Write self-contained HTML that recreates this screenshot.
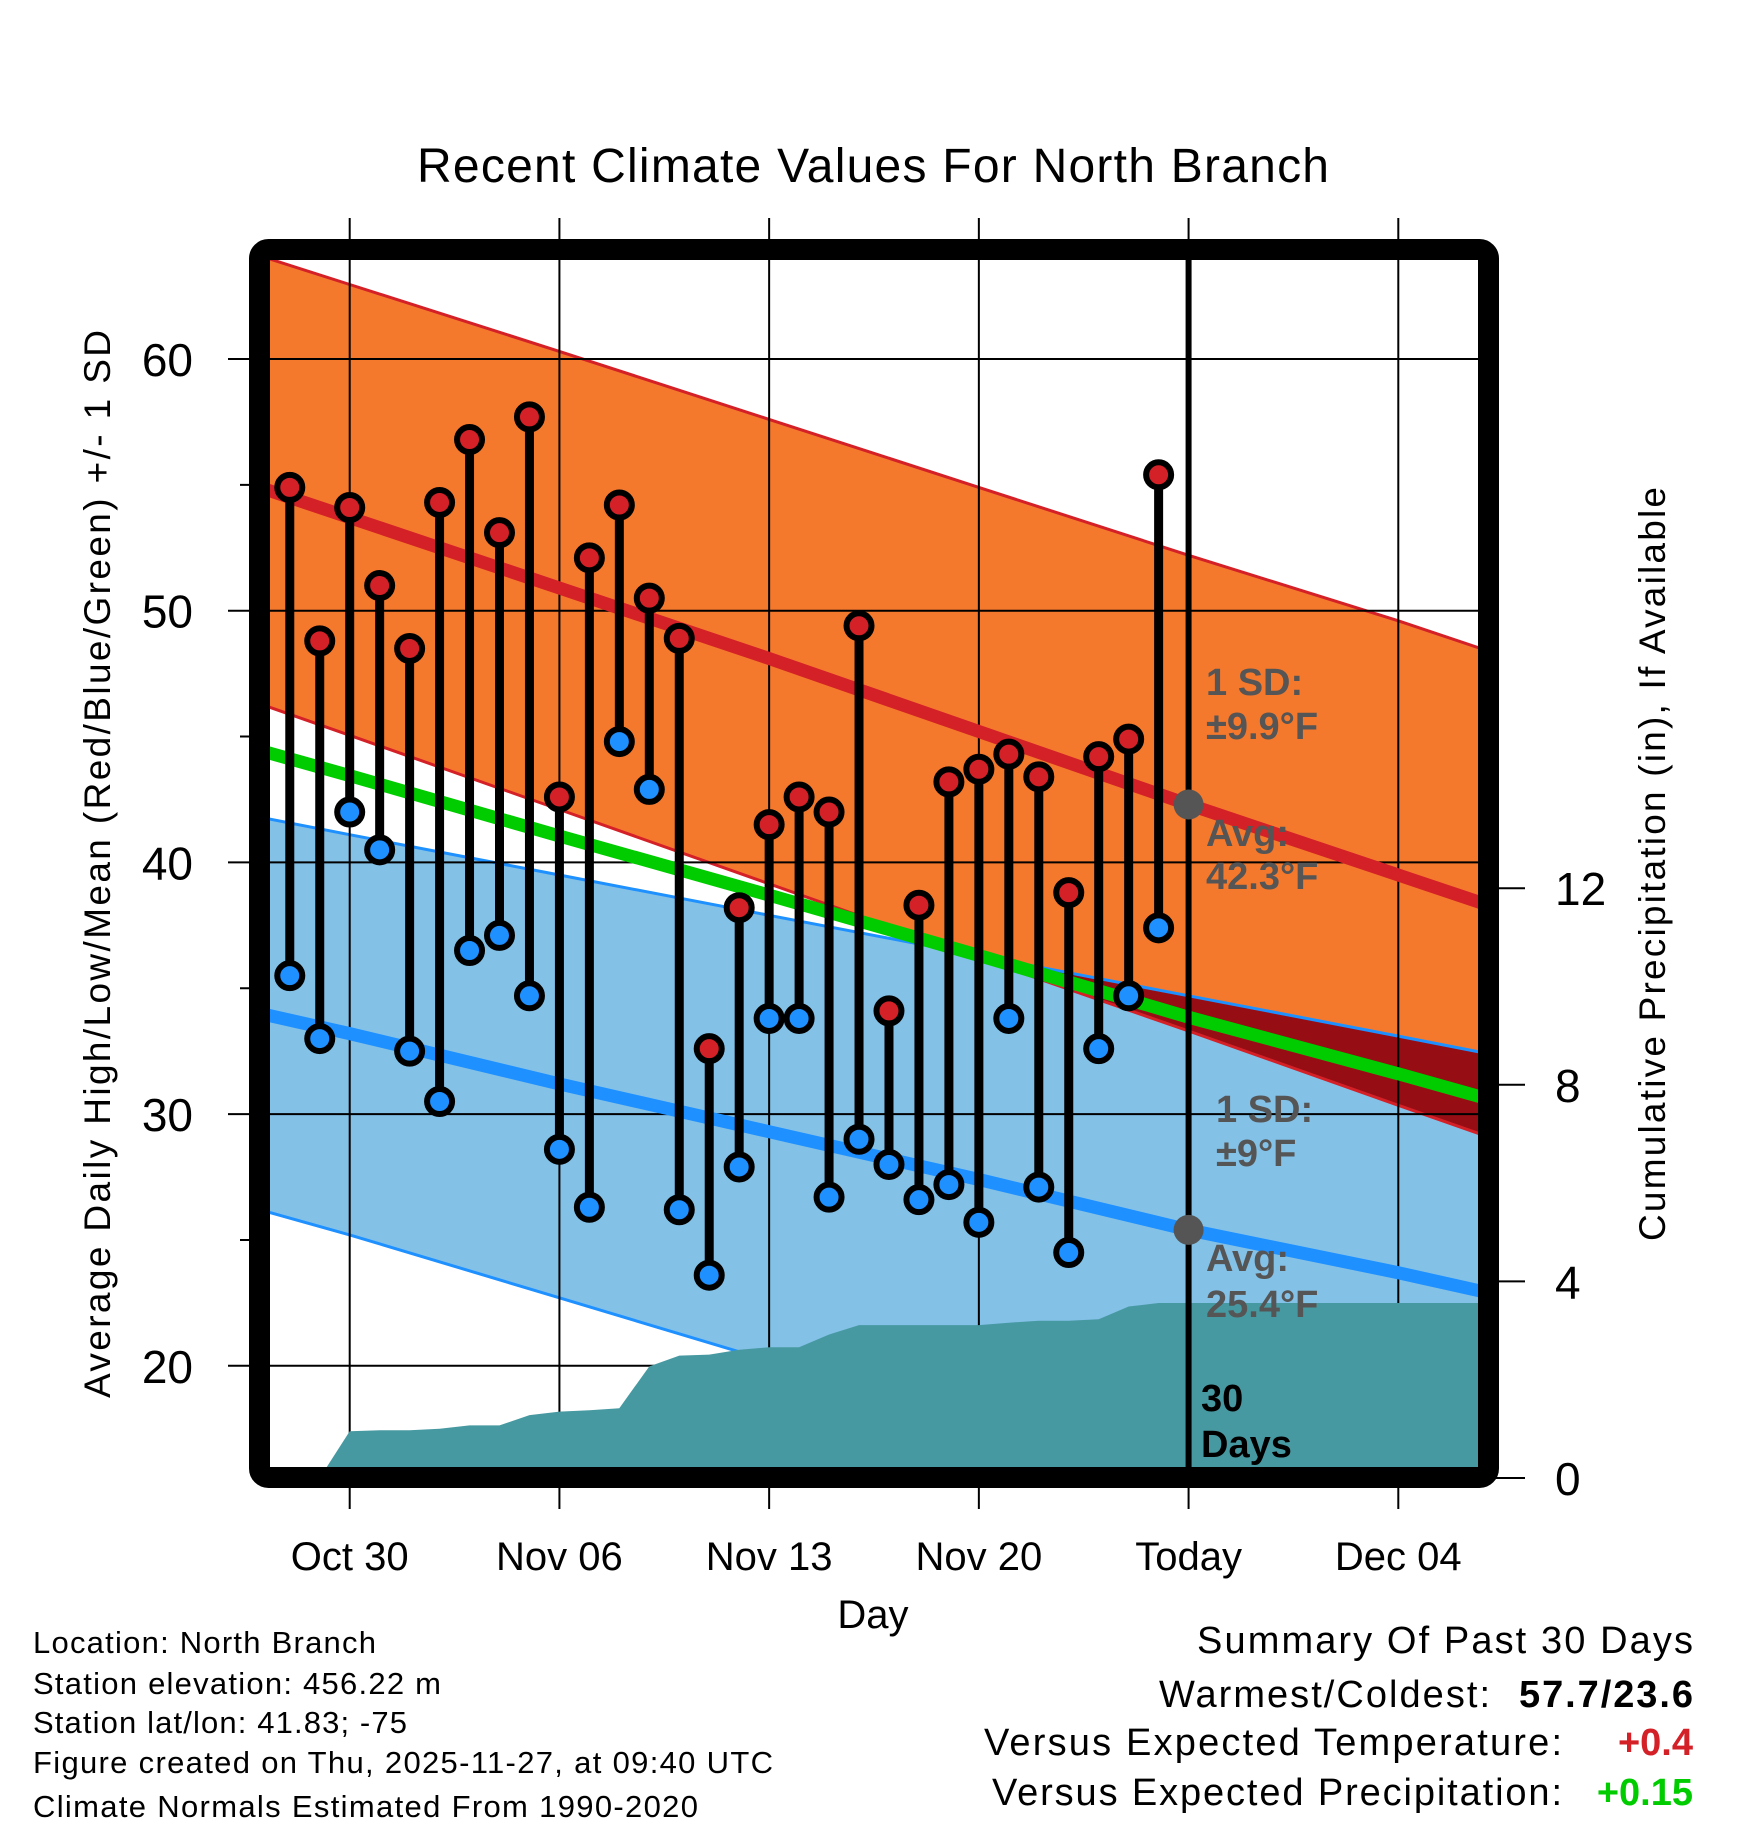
<!DOCTYPE html>
<html><head><meta charset="utf-8"><title>Recent Climate Values For North Branch</title>
<style>html,body{margin:0;padding:0;background:#fff}svg{display:block}text{font-family:"Liberation Sans",Arial,sans-serif}</style>
</head><body>
<svg id="chart" xmlns="http://www.w3.org/2000/svg" width="1748" height="1828" viewBox="0 0 1748 1828">
<defs>
<clipPath id="plotClip"><rect x="270" y="260" width="1208" height="1208"/></clipPath>
</defs>
<rect x="0" y="0" width="1748" height="1828" fill="#fff"/>
<text x="873" y="182" font-size="48" text-anchor="middle" textLength="912">Recent Climate Values For North Branch</text>
<g id="plot" clip-path="url(#plotClip)"></g>
<g id="axes"></g>
<rect x="259.5" y="249.5" width="1229" height="1228" rx="9" fill="none" stroke="#000" stroke-width="21"/>
<text transform="translate(110,864) rotate(-90)" font-size="37" text-anchor="middle" textLength="1068">Average Daily High/Low/Mean (Red/Blue/Green) +/- 1 SD</text>
<text transform="translate(1665,864) rotate(-90)" font-size="37" text-anchor="middle" textLength="754">Cumulative Precipitation (in), If Available</text>
<text x="873" y="1628" font-size="40" text-anchor="middle">Day</text>
<g font-size="31">
<text x="33" y="1653" textLength="343">Location: North Branch</text>
<text x="33" y="1694" textLength="408">Station elevation: 456.22 m</text>
<text x="33" y="1733" textLength="374">Station lat/lon: 41.83; -75</text>
<text x="33" y="1773" textLength="740">Figure created on Thu, 2025-11-27, at 09:40 UTC</text>
<text x="33" y="1817" textLength="665">Climate Normals Estimated From 1990-2020</text>
</g>
<g font-size="38">
<text x="1693" y="1653" text-anchor="end" textLength="496">Summary Of Past 30 Days</text>
<text x="1490" y="1707" text-anchor="end" textLength="331">Warmest/Coldest:</text>
<text x="1693" y="1707" text-anchor="end" font-weight="bold" textLength="174">57.7/23.6</text>
<text x="1562" y="1755" text-anchor="end" textLength="578">Versus Expected Temperature:</text>
<text x="1693" y="1755" text-anchor="end" font-weight="bold" fill="#D42027">+0.4</text>
<text x="1562" y="1805" text-anchor="end" textLength="570">Versus Expected Precipitation:</text>
<text x="1693" y="1805" text-anchor="end" font-weight="bold" fill="#00CC00">+0.15</text>
</g>
</svg>
<script>
// day offsets relative to Oct 30
const obsDays = [-2,-1,0,1,2,3,4,5,6,7,8,9,10,11,12,13,14,15,16,17,18,19,20,21,22,23,24,25,26,27];
const obsHigh = [54.9,48.8,54.1,51.0,48.5,54.3,56.8,53.1,57.7,42.6,52.1,54.2,50.5,48.9,32.6,38.2,41.5,42.6,42.0,49.4,34.1,38.3,43.2,43.7,44.3,43.4,38.8,44.2,44.9,55.4];
const obsLow  = [35.5,33.0,42.0,40.5,32.5,30.5,36.5,37.1,34.7,28.6,26.3,44.8,42.9,26.2,23.6,27.9,33.8,33.8,26.7,29.0,28.0,26.6,27.2,25.7,33.8,27.1,24.5,32.6,34.7,37.4];
const precipDays = [-2,-1,0,1,2,3,4,5,6,7,8,9,10,11,12,13,14,15,16,17,18,19,20,21,22,23,24,25,26,27,38];
const precipCum  = [0,0,0.95,0.97,0.97,1.0,1.07,1.07,1.28,1.35,1.38,1.42,2.27,2.49,2.51,2.61,2.66,2.66,2.92,3.11,3.11,3.11,3.11,3.11,3.16,3.2,3.2,3.23,3.49,3.56,3.56];
const normDays  = [-3,0,7,14,21,28,35,38];
const normHigh  = [54.9,53.7,50.9,48.1,45.2,42.3,39.5,38.3];
const highUpper = [64.1,62.96,60.3,57.6,54.9,52.2,49.6,48.4];
const highLower = [46.3,45.05,42.1,39.15,36.2,33.3,30.35,29.1];
const normMean  = [44.45,43.45,41.05,38.7,36.3,33.85,31.6,30.6];
const normLow   = [34.0,33.2,31.2,29.3,27.4,25.4,23.7,22.9];
const lowUpper  = [41.8,41.1,39.5,37.9,36.3,34.7,33.1,32.4];
const lowLower  = [26.2,25.2,22.7,20.2,17.7,15.2,12.7,11.6];
const xTickDays = [0,7,14,21,28,35];
const xTickLabels = ['Oct 30','Nov 06','Nov 13','Nov 20','Today','Dec 04'];
const yTicks = [20,30,40,50,60];
const yMinor = [25,35,45,55];
const y2Ticks = [0,4,8,12];
const todayDay = 28;
const avgHighLabel = 42.3, avgLowLabel = 25.4;

const NS='http://www.w3.org/2000/svg';
const xS = d => 349.7 + d*29.96;
const yS = v => 359 + (60 - v)*25.17;
const y2S = p => 1478 - p*49.15;
function mk(tag, attrs, parent){const e=document.createElementNS(NS,tag);for(const k in attrs)e.setAttribute(k,attrs[k]);parent.appendChild(e);return e;}
const plot=document.getElementById('plot'), axes=document.getElementById('axes');
function pts(xs, ys){return xs.map((d,i)=>xS(d).toFixed(1)+','+yS(ys[i]).toFixed(1));}
function band(up, lo){return pts(normDays,up).concat(pts(normDays,lo).reverse()).join(' ');}

let e;
e=mk('polygon',{points:band(highUpper,highLower),fill:'#F5792D'},plot);


e=mk('polygon',{points:band(lowUpper,lowLower),fill:'#83C1E7'},plot);


const defs=document.querySelector('defs');
const cp=mk('clipPath',{id:'lowBandClip'},defs);
mk('polygon',{points:band(lowUpper,lowLower)},cp);
e=mk('polygon',{points:band(highUpper,highLower),fill:'#960D14','clip-path':'url(#lowBandClip)'},plot);


[[highUpper,'#D42027'],[highLower,'#D42027'],[lowUpper,'#1E90FF'],[lowLower,'#1E90FF']].forEach(([arr,c],i)=>{
  const l=mk('polyline',{points:pts(normDays,arr).join(' '),fill:'none',stroke:c,'stroke-width':3},plot);
  
  
});
// grid
yTicks.forEach(v=>{const g=mk('line',{x1:270,x2:1478,y1:yS(v),y2:yS(v),stroke:'#000','stroke-width':2},plot);
  
  });
xTickDays.forEach(d=>{if(d===todayDay)return;const g=mk('line',{x1:xS(d),x2:xS(d),y1:260,y2:1468,stroke:'#000','stroke-width':2},plot);
  
  });
// precip
const pp=precipDays.map((d,i)=>xS(d).toFixed(1)+','+y2S(precipCum[i]).toFixed(1));
pp.push(xS(precipDays[precipDays.length-1]).toFixed(1)+','+y2S(0));
pp.unshift(xS(precipDays[0]).toFixed(1)+','+y2S(0));
e=mk('polygon',{points:pp.join(' '),fill:'#4799A1'},plot);


// normal lines
[[normMean,'#00CC00','mean-normal-line'],[normHigh,'#D42027','high-normal-line'],[normLow,'#1E90FF','low-normal-line']].forEach(([arr,c,n])=>{
  const l=mk('polyline',{points:pts(normDays,arr).join(' '),fill:'none',stroke:c,'stroke-width':13},plot);
  
  
});
// today line
e=mk('line',{x1:xS(todayDay),x2:xS(todayDay),y1:260,y2:1468,stroke:'#000','stroke-width':6},plot);


[avgHighLabel,avgLowLabel].forEach(v=>{const c=mk('circle',{cx:xS(todayDay),cy:yS(v),r:15,fill:'#555'},plot);
  
  });
// observations
obsDays.forEach((d,i)=>{
  const g=mk('g',{},plot);
  
  
  mk('line',{x1:xS(d),x2:xS(d),y1:yS(obsHigh[i]),y2:yS(obsLow[i]),stroke:'#000','stroke-width':9},g);
  const h=mk('circle',{cx:xS(d),cy:yS(obsHigh[i]),r:12.5,fill:'#D42027',stroke:'#000','stroke-width':6},g);
  
  
  const l=mk('circle',{cx:xS(d),cy:yS(obsLow[i]),r:12.5,fill:'#1E90FF',stroke:'#000','stroke-width':6},g);
  
  
});
// annotations
const ann=[['1 SD:',1206,695,'#555'],['\u00B19.9\u00B0F',1206,739,'#555'],['Avg:',1206,846,'#555'],[avgHighLabel.toFixed(1)+'\u00B0F',1206,889,'#555'],
 ['1 SD:',1216,1122,'#555'],['\u00B19\u00B0F',1216,1166,'#555'],['Avg:',1206,1271,'#555'],[avgLowLabel.toFixed(1)+'\u00B0F',1206,1317,'#555'],
 ['30',1201,1411,'#000'],['Days',1201,1457,'#000']];
ann.forEach(([t,x,y,c])=>{const tx=mk('text',{x:x,y:y,'font-size':38,'font-weight':'bold',fill:c},plot);tx.textContent=t;
  
  });
// axes ticks & labels
yTicks.forEach(v=>{
  const t=mk('line',{x1:228,x2:270,y1:yS(v),y2:yS(v),stroke:'#000','stroke-width':2},axes);
  
  
  const tx=mk('text',{x:193,y:yS(v)+17,'font-size':46,'text-anchor':'end'},axes);tx.textContent=v;
  
  
});
yMinor.forEach(v=>{const t=mk('line',{x1:240,x2:260,y1:yS(v),y2:yS(v),stroke:'#000','stroke-width':2},axes);
  
  });
y2Ticks.forEach(p=>{
  const t=mk('line',{x1:1490,x2:1525,y1:y2S(p),y2:y2S(p),stroke:'#000','stroke-width':2},axes);
  
  
  const tx=mk('text',{x:1555,y:y2S(p)+17,'font-size':46},axes);tx.textContent=p;
  
  
});
xTickDays.forEach((d,i)=>{
  const t1=mk('line',{x1:xS(d),x2:xS(d),y1:218,y2:250,stroke:'#000','stroke-width':2},axes);
  
  
  const t2=mk('line',{x1:xS(d),x2:xS(d),y1:1478,y2:1509,stroke:'#000','stroke-width':2},axes);
  
  
  const tx=mk('text',{x:xS(d),y:1570,'font-size':40,'text-anchor':'middle'},axes);tx.textContent=xTickLabels[i];
  
  
});
</script>
</body></html>
